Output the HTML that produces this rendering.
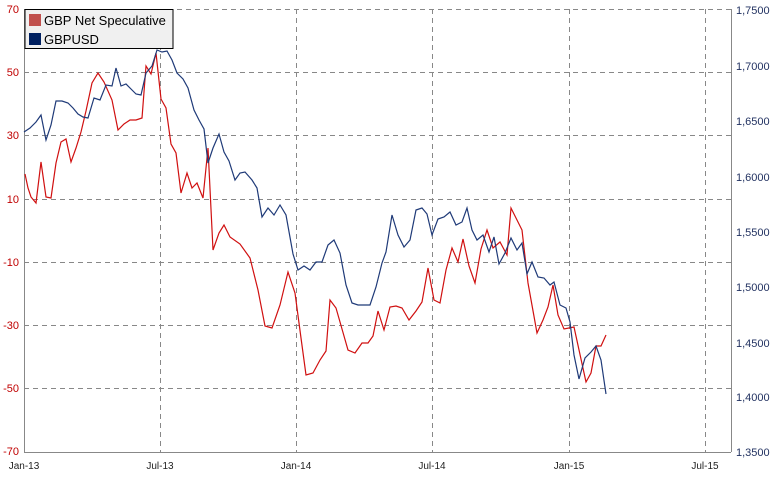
<!DOCTYPE html>
<html><head><meta charset="utf-8"><style>
body{margin:0;background:#fff;}
svg{display:block;font-family:"Liberation Sans",sans-serif;}
</style></head><body>
<svg width="777" height="484" viewBox="0 0 777 484">
<rect width="777" height="484" fill="#fff"/>
<g stroke="#888" stroke-dasharray="5,4" stroke-width="1" fill="none">
<line x1="24" y1="9.5" x2="731" y2="9.5"/>
<line x1="24" y1="72.5" x2="731" y2="72.5"/>
<line x1="24" y1="135.5" x2="731" y2="135.5"/>
<line x1="24" y1="199.5" x2="731" y2="199.5"/>
<line x1="24" y1="262.5" x2="731" y2="262.5"/>
<line x1="24" y1="325.5" x2="731" y2="325.5"/>
<line x1="24" y1="388.5" x2="731" y2="388.5"/>
<line x1="160.5" y1="9" x2="160.5" y2="452"/>
<line x1="296.5" y1="9" x2="296.5" y2="452"/>
<line x1="432.5" y1="9" x2="432.5" y2="452"/>
<line x1="569.5" y1="9" x2="569.5" y2="452"/>
<line x1="705.5" y1="9" x2="705.5" y2="452"/>
</g>
<g stroke="#888" stroke-width="1">
<line x1="24.5" y1="9" x2="24.5" y2="452"/>
<line x1="731.5" y1="9" x2="731.5" y2="452"/>
<line x1="24" y1="452.5" x2="731" y2="452.5"/>
</g>
<g font-size="11" fill="#c00000" text-anchor="end">
<text x="19" y="13">70</text><text x="19" y="76">50</text><text x="19" y="139">30</text>
<text x="19" y="203">10</text><text x="19" y="266">-10</text><text x="19" y="329">-30</text>
<text x="19" y="392">-50</text><text x="19" y="455">-70</text>
</g>
<g font-size="11" fill="#1f2f5f">
<text x="736" y="14">1,7500</text><text x="736" y="70">1,7000</text><text x="736" y="125">1,6500</text>
<text x="736" y="181">1,6000</text><text x="736" y="236">1,5500</text><text x="736" y="291">1,5000</text>
<text x="736" y="347">1,4500</text><text x="736" y="401">1,4000</text><text x="736" y="456">1,3500</text>
</g>
<g font-size="10" fill="#222" text-anchor="middle">
<text x="24" y="469">Jan-13</text><text x="160" y="469">Jul-13</text><text x="296" y="469">Jan-14</text>
<text x="432" y="469">Jul-14</text><text x="569" y="469">Jan-15</text><text x="705" y="469">Jul-15</text>
</g>
<polyline fill="none" stroke="#d01010" stroke-width="1.2" points="25,174 28,188 31,197 36,203 41,162 46,197 51,198 56,163 61,142 66,139 71,162 76,148 81,132 86,111 92,83 98,73 104,82 112,100 118,130 124,124 130,120 136,120 142,118 146,66 151,74 156,53 161,99 166,108 171,144 176,153 181,193 187,173 192,188 197,183 203,198 208,148 213,250 219,233 224,225 230,237 240,244 250,258 258,290 265,326 272,328 280,305 288,272 295,293 301,338 306,375 313,373 320,360 326,351 330,300 336,308 342,329 348,350 355,353 362,343 368,343 373,336 378,311 384,330 390,307 396,306 402,308 409,320 416,311 422,302 428,268 434,300 440,303 446,270 452,248 458,262 463,239 469,266 475,283 481,249 487,230 493,248 500,242 507,255 511,208 522,230 528,283 537,333 543,320 548,307 553,285 558,315 564,329 574,327 586,382 591,373 596,346 601,346 606,335"/>
<polyline fill="none" stroke="#1f3a78" stroke-width="1.2" points="24,132 30,128 36,122 41,115 46,140 51,125 56,101 62,101 68,103 73,108 78,114 83,117 88,118 94,98 100,100 106,85 112,86 116,68 121,86 126,84 131,89 136,94 141,95 146,73 152,66 157,50 162,52 167,51 172,60 177,73 183,79 188,88 194,110 199,120 204,129 208,163 213,148 219,134 224,152 229,161 235,180 240,173 245,172 252,180 257,188 262,217 268,208 274,215 280,205 286,215 293,254 298,270 304,266 310,270 316,262 322,262 328,245 334,240 340,253 346,285 352,303 358,305 364,305 370,305 376,287 382,263 386,252 392,215 398,235 404,247 410,240 416,210 422,208 427,214 432,235 438,219 444,217 450,212 456,225 462,222 467,208 472,230 477,240 483,235 489,252 494,237 499,264 505,253 511,238 517,250 522,243 527,274 532,262 538,277 544,278 550,285 554,282 560,305 566,308 570,322 574,355 579,379 585,358 591,352 596,346 601,360 606,394"/>
<rect x="25" y="9.5" width="148" height="39" fill="#f0f0f0" stroke="#000" stroke-width="1"/>
<rect x="29" y="14" width="12" height="12" fill="#c0504d"/>
<rect x="29" y="33" width="12" height="12" fill="#002060"/>
<g font-size="13" fill="#000"><text x="44" y="25">GBP Net Speculative</text><text x="44" y="44">GBPUSD</text></g>
</svg>
</body></html>
